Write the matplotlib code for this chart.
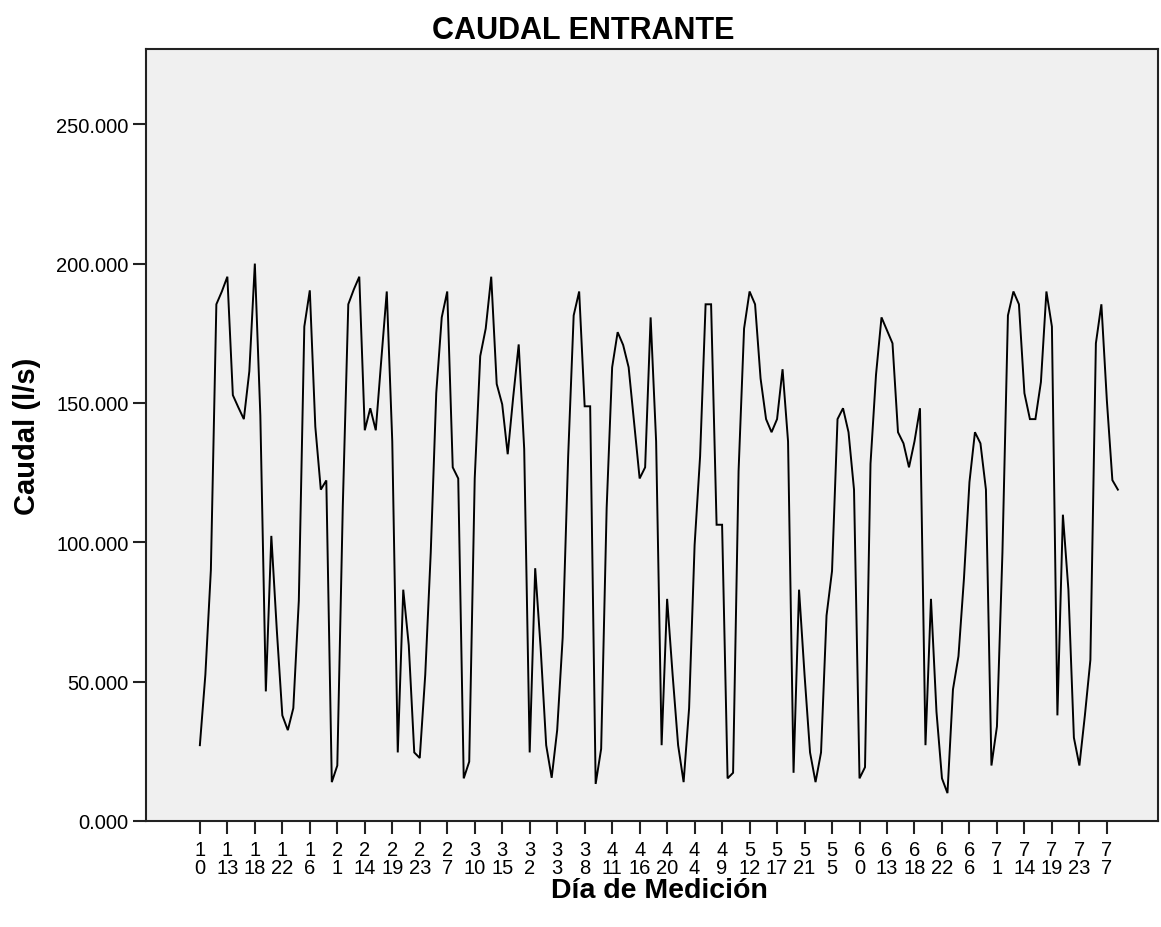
import matplotlib
matplotlib.use("Agg")
import matplotlib.pyplot as plt
import numpy as np
from matplotlib.ticker import FuncFormatter, FixedLocator

plt.rcParams['font.family'] = ['Liberation Sans', 'DejaVu Sans']

# Categories: day and hour (hours sorted as text, as in the source)
days = ["1", "2", "3", "4", "5", "6", "7"]
hours = ["0", "1", "10", "11", "12", "13", "14", "15", "16", "17", "18", "19",
         "2", "20", "21", "22", "23", "3", "4", "5", "6", "7", "8", "9"]

# Caudal values (l/s) per day, in the hour order above
dia1 = [27200, 52500, 90000, 185400, 190000, 195300, 152800, 148400, 144200, 161400, 200000, 145500,
        46500, 102300, 68400, 37900, 32600, 40500, 79100, 177400, 190400, 141500, 118900, 122200]
dia2 = [13950, 19900, 113000, 185400, 190700, 195300, 140200, 148100, 140200, 165400, 190000, 136200,
        24600, 83000, 63100, 24600, 22600, 52500, 96300, 153500, 180700, 190000, 126900, 122900]
dia3 = [15300, 21300, 122900, 166800, 176700, 195300, 156800, 149500, 131600, 152100, 171000, 133500,
        24600, 90700, 61800, 27200, 15500, 32600, 65800, 130900, 181400, 190000, 148800, 148800]
dia4 = [13300, 25900, 112300, 162800, 175400, 170800, 162800, 142800, 122900, 126900, 180700, 136200,
        27200, 79700, 52500, 27200, 13950, 40500, 99000, 130900, 185400, 185400, 106300, 106300]
dia5 = [15300, 17300, 125600, 176700, 190000, 185400, 158800, 144200, 139500, 144200, 162100, 136200,
        17300, 83000, 52500, 24600, 13950, 24600, 73700, 89700, 144200, 148100, 139500, 118900]
dia6 = [15300, 19300, 128200, 160100, 180700, 176100, 171400, 139500, 135500, 126900, 136200, 148100,
        27200, 79700, 39200, 15300, 10000, 47200, 59100, 87000, 121600, 139500, 135500, 118900]
dia7 = [19900, 33900, 96300, 181400, 190000, 185400, 153500, 144200, 144200, 157500, 190000, 177400,
        37900, 109900, 83000, 29900, 19900, 37900, 57800, 171400, 185400, 150800, 122300, 118900]

y_ticks = [0, 50000, 100000, 150000, 200000, 250000]

series = [dia1, dia2, dia3, dia4, dia5, dia6, dia7]
values = np.concatenate([np.array(s, dtype=float) for s in series])
labels = [f"{d}\n{h}" for d in days for h in hours]
pos = np.arange(len(values))

fig = plt.figure(figsize=(11.61, 9.28), dpi=100)
ax = fig.add_axes([146/1161, 1-822/928, (1158-146)/1161, (822-50)/928])
ax.set_facecolor('#f0f0f0')

ax.plot(pos, values, color='black', lw=1.4, solid_joinstyle='miter')

ax.set_xlim(-9.8, 174.3)
ax.set_ylim(0, 277000)

ax.xaxis.set_major_locator(FixedLocator(pos[::5]))
ax.set_xticklabels(labels[::5], linespacing=0.92)
ax.set_yticks(y_ticks)
ax.yaxis.set_major_formatter(FuncFormatter(lambda v, p: f"{v/1000:.3f}"))

ax.tick_params(axis='both', labelsize=14.5, length=9.5, width=1.5, color='#222222')
ax.tick_params(axis='x', pad=4)
ax.tick_params(axis='y', pad=3)
for sp in ax.spines.values():
    sp.set_linewidth(1.5)
    sp.set_color('#222222')

fig.text(583/1161, 1-31/928, "CAUDAL ENTRANTE", fontsize=22, fontweight='bold',
         ha='center', va='center')
ax.set_xlabel("Día de Medición", fontsize=20.5, fontweight='bold')
ax.xaxis.set_label_coords((659-146)/(1158-146), -(891-822)/(822-50))
ax.xaxis.label.set_va('center')
ax.set_ylabel("Caudal (l/s)", fontsize=21, fontweight='bold')
ax.yaxis.set_label_coords(-(146-27)/(1158-146), 0.5)
ax.yaxis.label.set_va('center')

fig.savefig("out.png", dpi=100)
